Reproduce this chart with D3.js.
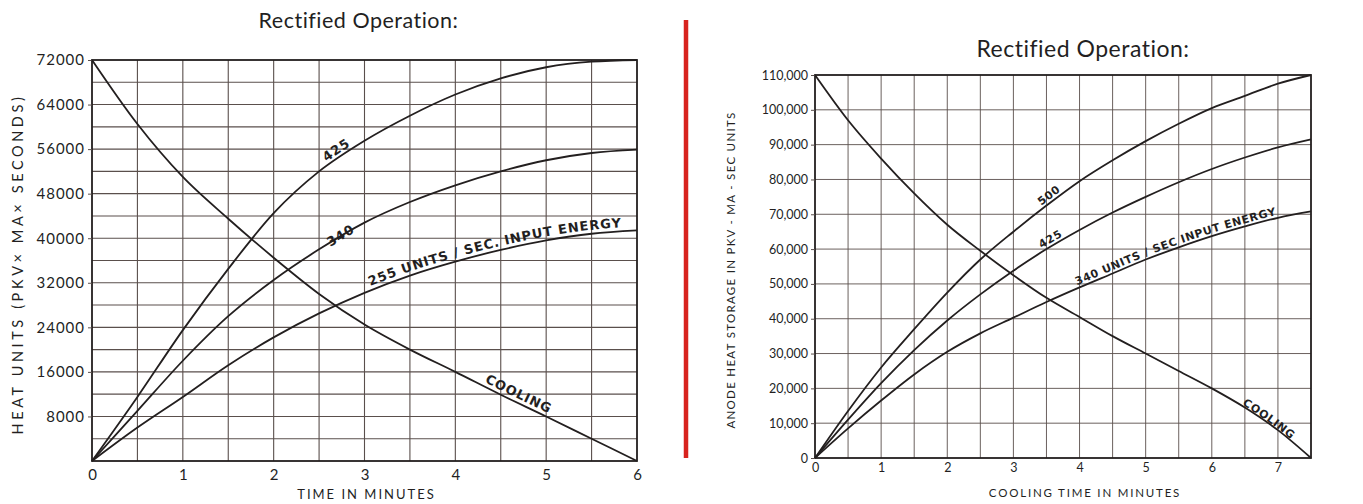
<!DOCTYPE html>
<html>
<head>
<meta charset="utf-8">
<script src="https://cdn.jsdelivr.net/npm/d3@7"></script>
<style>
  body { margin: 0; background: #ffffff; }
  svg { display: block; }
</style>
</head>
<body>
<svg id="chart" width="1363" height="504"></svg>
<script>
// ---- Left panel: 6-minute heating / cooling curves ----
const leftTime = [0, 0.5, 1, 1.5, 2, 2.5, 3, 3.5, 4, 4.5, 5, 5.5, 6];
const leftInput425 = [0, 11500, 23500, 34500, 44500, 52000, 57500, 62000, 65800, 68700, 70700, 71700, 72000];
const leftInput340 = [0, 9000, 18000, 26000, 32500, 38000, 42800, 46500, 49500, 52000, 54000, 55300, 55900];
const leftInput255 = [0, 6000, 11500, 17200, 22200, 26500, 30200, 33300, 35800, 37900, 39600, 40800, 41400];
const leftCooling  = [72000, 60500, 51000, 43500, 36500, 30000, 24500, 20000, 16000, 11900, 8000, 4000, 0];
const leftYTicks = [8000, 16000, 24000, 32000, 40000, 48000, 56000, 64000, 72000];
const leftXTicks = [0, 1, 2, 3, 4, 5, 6];

// ---- Right panel: 7.5-minute heating / cooling curves ----
const rightTime = [0, 0.5, 1, 1.5, 2, 2.5, 3, 3.5, 4, 4.5, 5, 5.5, 6, 6.5, 7, 7.5];
const rightInput500 = [0, 13500, 26000, 37000, 47500, 57000, 65000, 72500, 79500, 85500, 91000, 96000, 100500, 104000, 107500, 110000];
const rightInput425 = [0, 11000, 21500, 31000, 39500, 47000, 53800, 60000, 65500, 70500, 75000, 79200, 83000, 86300, 89200, 91500];
const rightInput340 = [0, 8500, 16500, 24000, 30500, 35800, 40300, 44800, 49000, 53000, 57000, 60500, 63700, 66500, 69000, 70800];
const rightCooling  = [110000, 97000, 86000, 76000, 67000, 59500, 52500, 46000, 40500, 35000, 30000, 25000, 20000, 14500, 8000, 0];
const rightYTicks = [0, 10000, 20000, 30000, 40000, 50000, 60000, 70000, 80000, 90000, 100000, 110000];
const rightXTicks = [0, 1, 2, 3, 4, 5, 6, 7];

const ink = "#231f1f";
const gridInk = "#5a4f4c";
const svg = d3.select("#chart");

function series(times, values) {
  return times.map((t, i) => ({ t, v: values[i] }));
}

// Draws one framed panel: grid, frame, axes, curves and curve captions.
function drawPanel(cfg) {
  const g = svg.append("g");
  const x = d3.scaleLinear().domain([0, cfg.xMax]).range([cfg.left, cfg.right]);
  const y = d3.scaleLinear().domain([0, cfg.yMax]).range([cfg.bottom, cfg.top]);

  // grid
  g.append("g").selectAll("line").data(d3.range(0.5, cfg.xMax, 0.5)).join("line")
    .attr("x1", d => x(d)).attr("x2", d => x(d))
    .attr("y1", cfg.top).attr("y2", cfg.bottom)
    .attr("stroke", gridInk).attr("stroke-width", cfg.gridWidth);
  g.append("g").selectAll("line").data(d3.range(cfg.yStep, cfg.yMax, cfg.yStep)).join("line")
    .attr("x1", cfg.left).attr("x2", cfg.right)
    .attr("y1", d => y(d)).attr("y2", d => y(d))
    .attr("stroke", gridInk).attr("stroke-width", cfg.gridWidth);

  // frame
  g.append("rect")
    .attr("x", cfg.left).attr("y", cfg.top)
    .attr("width", cfg.right - cfg.left).attr("height", cfg.bottom - cfg.top)
    .attr("fill", "none").attr("stroke", ink).attr("stroke-width", 1.8);

  // y axis
  const yAxis = g.append("g").attr("transform", `translate(${cfg.left},0)`)
    .call(d3.axisLeft(y).tickValues(cfg.yTicks).tickFormat(cfg.yFormat).tickSize(4).tickPadding(3));
  yAxis.select(".domain").remove();
  yAxis.selectAll("line").attr("stroke", gridInk);
  yAxis.selectAll("text")
    .attr("fill", ink).style("font-family", "Lato, 'DejaVu Sans', sans-serif")
    .style("font-size", cfg.tickSize + "px").style("letter-spacing", cfg.tickSpacing + "px");

  // x axis
  const xAxis = g.append("g").attr("transform", `translate(0,${cfg.bottom})`)
    .call(d3.axisBottom(x).tickValues(cfg.xTicks).tickFormat(d3.format("d")).tickSize(0).tickPadding(cfg.xPad));
  xAxis.select(".domain").remove();
  xAxis.selectAll("text")
    .attr("fill", ink).style("font-family", "Lato, 'DejaVu Sans', sans-serif")
    .style("font-size", cfg.tickSize + "px");

  // curves
  const line = d3.line().x(d => x(d.t)).y(d => y(d.v)).curve(d3.curveMonotoneX);
  cfg.curves.forEach((c, i) => {
    const id = cfg.id + "-curve-" + i;
    const path = g.append("path")
      .attr("id", id)
      .attr("d", line(series(cfg.time, c.values)))
      .attr("fill", "none").attr("stroke", ink).attr("stroke-width", 1.8);
    if (!c.label) return;
    // caption follows the curve, starting where it passes c.from minutes
    const node = path.node();
    const total = node.getTotalLength();
    const target = x(c.from);
    let lo = 0, hi = total;
    for (let k = 0; k < 40; k++) {
      const mid = (lo + hi) / 2;
      if (node.getPointAtLength(mid).x < target) lo = mid; else hi = mid;
    }
    g.append("text")
      .attr("dy", c.dy)
      .style("font-family", "'DejaVu Sans', sans-serif")
      .style("font-weight", "bold")
      .style("font-size", cfg.labelSize + "px")
      .style("letter-spacing", cfg.labelSpacing + "px")
      .attr("fill", ink)
      .append("textPath")
      .attr("href", "#" + id)
      .attr("startOffset", lo)
      .text(c.label);
  });

  // titles
  g.append("text")
    .attr("x", (cfg.left + cfg.right) / 2 + cfg.titleShift).attr("y", cfg.titleY)
    .attr("text-anchor", "middle").attr("fill", ink)
    .style("font-family", "Lato, 'DejaVu Sans', sans-serif")
    .style("font-size", cfg.titleSize + "px").style("letter-spacing", "0.5px")
    .text("Rectified Operation:");
  g.append("text")
    .attr("x", (cfg.left + cfg.right) / 2 + cfg.xTitleShift).attr("y", cfg.xTitleY)
    .attr("text-anchor", "middle").attr("fill", ink)
    .style("font-family", "Lato, 'DejaVu Sans', sans-serif")
    .style("font-size", cfg.axisTitleSize + "px").style("letter-spacing", cfg.axisTitleSpacing + "px")
    .text(cfg.xTitle);
  g.append("text")
    .attr("transform", `translate(${cfg.yTitleX},${cfg.yTitleMid}) rotate(-90)`)
    .attr("text-anchor", "middle").attr("fill", ink)
    .style("font-family", "Lato, 'DejaVu Sans', sans-serif")
    .style("font-size", cfg.yTitleSize + "px").style("letter-spacing", cfg.yTitleSpacing + "px")
    .text(cfg.yTitle);
}

drawPanel({
  id: "left",
  left: 92, right: 637, top: 60, bottom: 461,
  xMax: 6, yMax: 72000, yStep: 4000,
  yTicks: leftYTicks, xTicks: leftXTicks, yFormat: d3.format("d"),
  tickSize: 15, tickSpacing: 1, xPad: 8, gridWidth: 1.1,
  time: leftTime,
  curves: [
    { values: leftInput425, label: "425", from: 2.6, dy: -3 },
    { values: leftInput340, label: "340", from: 2.6, dy: 4 },
    { values: leftInput255, label: "255 UNITS / SEC. INPUT ENERGY", from: 3.08, dy: -4 },
    { values: leftCooling, label: "COOLING", from: 4.3, dy: -4 }
  ],
  labelSize: 13, labelSpacing: 0.8,
  titleY: 28, titleSize: 21.5, titleShift: -6,
  xTitle: "TIME IN MINUTES", xTitleY: 499, xTitleShift: 2,
  axisTitleSize: 13, axisTitleSpacing: 2,
  yTitle: "HEAT UNITS (PKV\u00D7 MA\u00D7 SECONDS)", yTitleX: 23, yTitleMid: 264,
  yTitleSize: 14.5, yTitleSpacing: 3.6
});

drawPanel({
  id: "right",
  left: 815, right: 1311, top: 75, bottom: 458,
  xMax: 7.5, yMax: 110000, yStep: 10000,
  yTicks: rightYTicks, xTicks: rightXTicks, yFormat: d3.format(","),
  tickSize: 12.5, tickSpacing: 0, xPad: 5, gridWidth: 0.9,
  time: rightTime,
  curves: [
    { values: rightInput500, label: "500", from: 3.45, dy: -3 },
    { values: rightInput425, label: "425", from: 3.45, dy: -3 },
    { values: rightInput340, label: "340 UNITS / SEC INPUT ENERGY", from: 3.98, dy: -3 },
    { values: rightCooling, label: "COOLING", from: 6.45, dy: -1 }
  ],
  labelSize: 11, labelSpacing: 0.6,
  titleY: 57, titleSize: 23, titleShift: 20,
  xTitle: "COOLING TIME IN MINUTES", xTitleY: 497, xTitleShift: 22,
  axisTitleSize: 11.5, axisTitleSpacing: 1.8,
  yTitle: "ANODE HEAT STORAGE IN PKV - MA - SEC UNITS", yTitleX: 735, yTitleMid: 270,
  yTitleSize: 11.5, yTitleSpacing: 1.3
});

// red divider between the two panels
svg.append("line")
  .attr("x1", 686).attr("x2", 686).attr("y1", 20).attr("y2", 458)
  .attr("stroke", "#d8231e").attr("stroke-width", 4.5);
</script>
</body>
</html>
